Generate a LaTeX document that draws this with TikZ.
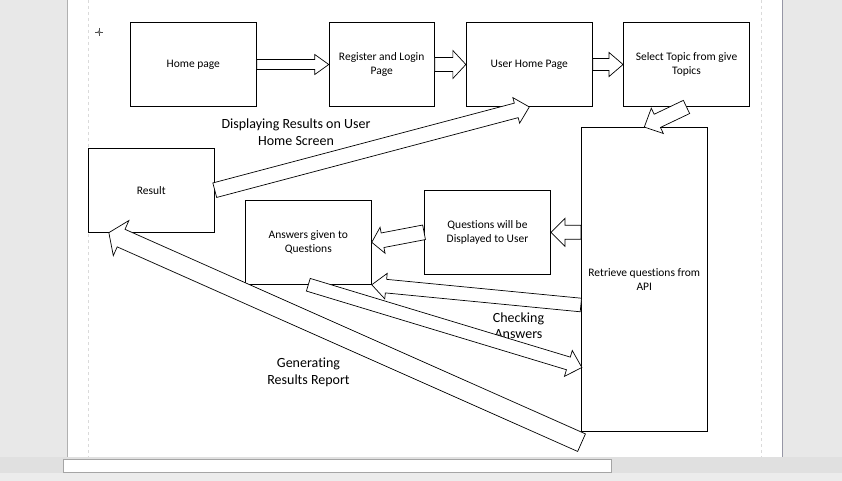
\documentclass[tikz,border=0pt]{standalone}
\usepackage{fontspec}
\setmainfont{Carlito}[Ligatures=NoCommon]
\usepackage{xcolor}
\definecolor{pagegray}{RGB}{232, 232, 232}
\definecolor{bargray}{RGB}{224, 224, 224}
\definecolor{barlight}{RGB}{236, 236, 236}
\definecolor{edgegray}{RGB}{176, 176, 176}
\definecolor{edgeblue}{RGB}{150, 150, 165}
\definecolor{guidegray}{RGB}{218, 218, 218}
\definecolor{scrollgray}{RGB}{165, 165, 165}
\usepackage{tikz}
\usetikzlibrary{calc, positioning}

\tikzset{
  box/.style={draw=black, line width=0.9pt, fill=white, align=center,
    minimum width=126pt, minimum height=84pt, inner sep=2pt,
    font=\fontsize{11.5}{14}\selectfont},
  lbl/.style={align=center, font=\fontsize{14}{16.5}\selectfont},
  blockarr/.style={draw=black, fill=white, line width=0.7pt, line join=miter}
}

% block arrow: tail, tip, shaft half width, head half width, head length
\newcommand{\blockarrow}[5]{%
  \coordinate (ba-h) at ($(#2)!#5pt!(#1)$);
  \draw[blockarr] ($(#1)!#3pt!90:(#2)$) -- ($(ba-h)!#3pt!-90:(#1)$)
    -- ($(ba-h)!#4pt!-90:(#1)$) -- (#2) -- ($(ba-h)!#4pt!90:(#1)$)
    -- ($(ba-h)!#3pt!90:(#1)$) -- ($(#1)!#3pt!-90:(#2)$) -- cycle;
}

\begin{document}
\begin{tikzpicture}[x=1pt, y=-1pt]
  \useasboundingbox (0,0) rectangle (842,481);
  % window and page
  \fill[pagegray] (0,0) rectangle (842,481);
  \fill[white] (68,0) rectangle (782,457);
  \draw[edgegray, line width=0.8pt] (67.5,0) -- (67.5,457);
  \draw[edgeblue, line width=0.8pt] (782,0) -- (782,457);
  \draw[guidegray, dashed, line width=0.6pt] (88.5,0) -- (88.5,457);
  \draw[guidegray, dashed, line width=0.6pt] (761,0) -- (761,457);
  \fill[bargray] (0,457) rectangle (842,473);
  \fill[barlight] (0,473) rectangle (842,481);
  \draw[scrollgray, fill=white, line width=0.8pt] (63.5,459) rectangle (611.5,472);
  % anchor mark
  \draw[black!70, line width=0.5pt] (95,32) -- (103,32) (99,28) -- (99,36);
  \draw[black!70, fill=white, line width=0.5pt] (99,32) circle (1.3);

  % top row
  \node[box] (home) at (193.3,64.5) {Home page};
  \node[box, minimum width=105pt] (register) at (381.7,64.5) {Register and Login\\Page};
  \node[box] (userhome) at (529.3,64.5) {User Home Page};
  \node[box] (topic) at (686.5,64.5) {Select Topic from give\\Topics};
  % right column
  \node[box, minimum height=304pt] (retrieve) at (644.3,279.5) {Retrieve questions from\\API};
  % middle row
  \node[box] (questions) at (487.5,232.3) {Questions will be\\Displayed to User};
  \node[box] (answers) at (308.3,242.3) {Answers given to\\Questions};
  \node[box] (result) at (151.3,190.2) {Result};

  % labels
  \node[lbl] (showlbl) at (296,132) {Displaying Results on User\\Home Screen};
  \node[lbl] (checklbl) at (518.5,325.5) {Checking\\Answers};
  \node[lbl] (genlbl) at (308.5,372.5) {Generating\\Results Report};

  % helper points on the boxes
  \coordinate (qin) at (retrieve.west |- questions.east);
  \coordinate (aout) at ($(retrieve.west)+(0,25.5)$);
  \coordinate (ain) at ($(retrieve.west)+(1,88)$);
  \coordinate (rout) at ($(retrieve.south west)+(0.7,10.7)$);
  \coordinate (resin) at ($(result.south west)+(21,0)$);

  % arrows
  \blockarrow{home.east}{register.west}{5}{10}{14}
  \blockarrow{register.east}{userhome.west}{7}{14}{13}
  \blockarrow{userhome.east}{topic.west}{6}{12}{14}
  \blockarrow{topic.south}{retrieve.north}{7.3}{14}{14.4}
  \blockarrow{qin}{questions.east}{7}{14}{14}
  \blockarrow{questions.west}{answers.east}{7.4}{13.2}{11}
  \blockarrow{aout}{answers.south east}{6.8}{12.8}{14.3}
  \blockarrow{answers.south}{ain}{6.6}{13.5}{14.1}
  \blockarrow{rout}{resin}{9.6}{19.2}{13.4}
  \blockarrow{result.east}{userhome.south}{7.5}{13.2}{13.5}
\end{tikzpicture}
\end{document}
